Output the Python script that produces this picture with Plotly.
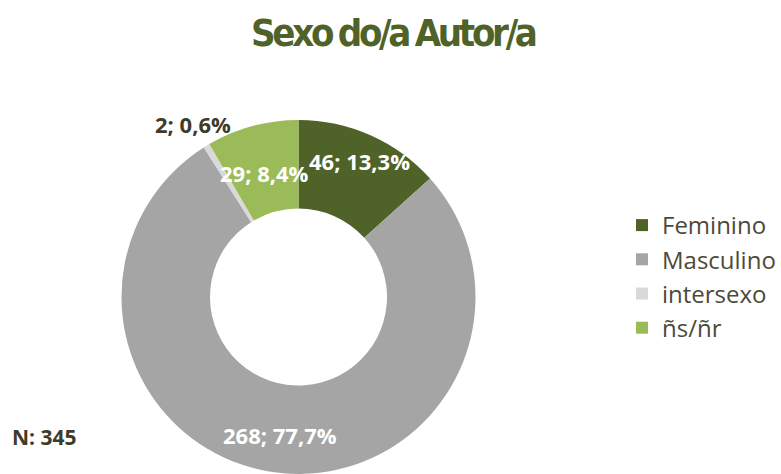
import math
import plotly.graph_objects as go

categories = ["Feminino", "Masculino", "intersexo", "ñs/ñr"]
counts = [46, 268, 2, 29]
colors = ["#4F6228", "#A5A5A5", "#D9D9D9", "#9BBB59"]
label_radius = [150, 138, 204, 130]
label_colors = ["white", "white", "#403B28", "white"]
title_text = "Sexo do/a Autor/a"

W, H = 781, 474
R = 177.0
cx, cy = 298.5, 298.0

total = sum(counts)

fig = go.Figure()
fig.add_trace(go.Pie(
    labels=categories,
    values=counts,
    marker=dict(colors=colors, line=dict(width=0)),
    hole=0.5,
    sort=False,
    direction="clockwise",
    rotation=0,
    textinfo="none",
    hoverinfo="label+value+percent",
    domain=dict(x=[(cx - R) / W, (cx + R) / W], y=[0, 2 * R / H]),
))

annotations = []
cum = 0
for cat, v, r, col in zip(categories, counts, label_radius, label_colors):
    mid = (cum + v / 2) / total * 2 * math.pi
    cum += v
    px = cx + r * math.sin(mid)
    py = cy - r * math.cos(mid)
    pct = f"{v / total * 100:.1f}".replace(".", ",")
    annotations.append(dict(
        x=px / W, y=1 - py / H, xref="paper", yref="paper",
        text=f"<b>{v}; {pct}%</b>", showarrow=False,
        font=dict(family="Open Sans", size=22, color=col),
        xanchor="center", yanchor="middle",
    ))

annotations.append(dict(
    x=10 / W, y=1 - 437 / H, xref="paper", yref="paper",
    text=f"<b>N: {total}</b>", showarrow=False,
    font=dict(family="Open Sans", size=21, color="#403B28"),
    xanchor="left", yanchor="middle",
))
annotations.append(dict(
    x=393 / W, y=1 - 33 / H, xref="paper", yref="paper",
    text=(f"<span style=\"font-stretch:condensed;letter-spacing:-3.3px;word-spacing:-2px\">"
          f"<b>{title_text}</b></span>"),
    showarrow=False,
    font=dict(family="DejaVu Sans", size=38, color="#4F6228"),
    xanchor="center", yanchor="middle",
))

fig.update_layout(
    width=W, height=H, autosize=False,
    margin=dict(l=0, r=0, t=0, b=0),
    paper_bgcolor="white", plot_bgcolor="white",
    showlegend=True,
    legend=dict(
        x=0.7964, y=1 - 203 / H, xanchor="left", yanchor="top",
        font=dict(family="Open Sans", size=24, color="#4D4A3A"),
        bgcolor="rgba(0,0,0,0)", traceorder="normal",
    ),
    annotations=annotations,
)

fig.write_html("out.html", config={"displayModeBar": False},
               post_script="document.body.style.margin='0';")
